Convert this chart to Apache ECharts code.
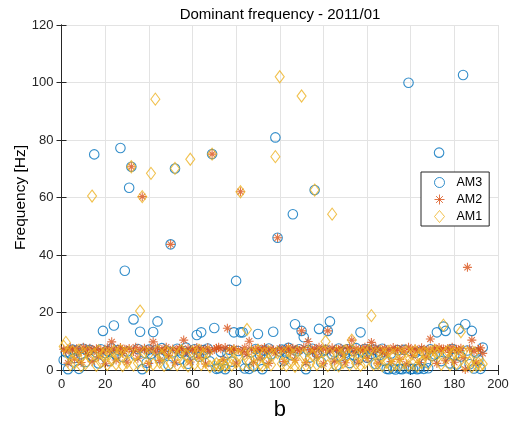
<!DOCTYPE html>
<html>
<head>
<meta charset="utf-8">
<script src="https://cdn.jsdelivr.net/npm/echarts@6/dist/echarts.min.js"></script>
<style>
  html, body { margin: 0; padding: 0; background: #fff; }
  #chart { width: 516px; height: 429px; }
</style>
</head>
<body>
<div id="chart"></div>
<script>
// Dominant frequency per b (index 1..193) for three channels
const am3 = [
  3.5, 6.2, 0.3, 5.8, 7.1, 4.2, 6.8, 0.4, 5.5, 7.4,
  2.8, 6.5, 7.0, 4.8, 75.0, 6.1, 2.3, 7.2, 13.6, 5.9,
  6.6, 3.1, 7.5, 15.5, 5.2, 6.9, 77.2, 4.5, 34.5, 6.4,
  63.4, 70.7, 17.6, 5.0, 7.3, 13.3, 0.3, 6.0, 2.5, 7.1,
  5.6, 13.2, 6.8, 16.9, 4.1, 7.6, 5.3, 6.7, 1.8, 43.7,
  6.2, 70.1, 7.4, 3.6, 5.9, 6.5, 7.8, 2.2, 6.1, 5.4,
  7.2, 12.2, 4.6, 13.1, 6.9, 5.7, 7.5, 3.0, 75.1, 14.6,
  0.4, 0.6, 6.3, 1.5, 0.3, 5.8, 7.0, 2.9, 13.1, 31.0,
  6.6, 13.1, 13.1, 0.5, 3.4, 0.4, 6.2, 1.2, 7.3, 12.5,
  5.1, 0.3, 6.8, 4.0, 7.5, 5.5, 13.3, 80.9, 46.0, 6.4,
  7.1, 3.3, 6.0, 7.7, 5.2, 54.2, 15.9, 6.5, 7.2, 13.6,
  11.4, 0.3, 6.9, 4.4, 7.4, 62.6, 5.8, 14.3, 2.7, 6.6,
  7.0, 13.6, 16.9, 5.5, 6.2, 1.6, 7.5, 4.8, 6.3, 5.9,
  7.2, 2.4, 6.7, 5.0, 7.6, 3.8, 13.1, 6.1, 7.3, 4.3,
  6.8, 5.6, 7.1, 2.1, 6.4, 5.3, 7.4, 3.2, 0.4, 0.3,
  5.7, 0.5, 0.2, 6.9, 0.4, 0.3, 7.0, 0.6, 99.9, 0.3,
  0.4, 5.9, 0.3, 0.5, 6.6, 0.4, 2.6, 0.6, 7.2, 4.9,
  5.4, 13.1, 75.6, 3.1, 15.1, 13.6, 6.0, 2.3, 7.3, 5.2,
  1.9, 14.3, 4.7, 102.6, 15.9, 6.8, 2.0, 13.6, 0.5, 6.1,
  3.6, 0.4, 7.8
];
const am2 = [
  7.2, 6.5, 2.4, 7.8, 6.9, 3.8, 7.5, 6.1, 2.6, 7.9,
  7.0, 5.4, 7.6, 2.9, 6.8, 7.4, 4.6, 7.1, 6.3, 2.2,
  7.7, 6.6, 9.8, 7.3, 3.5, 6.9, 7.8, 5.8, 7.2, 2.7,
  7.5, 70.7, 6.4, 7.9, 4.1, 7.0, 60.3, 7.6, 6.7, 2.3,
  7.4, 9.8, 6.2, 7.7, 3.3, 7.1, 6.5, 7.9, 5.1, 43.7,
  7.3, 2.5, 6.8, 7.6, 7.2, 10.4, 6.0, 7.5, 2.8, 7.0,
  6.6, 7.8, 4.4, 7.3, 6.9, 2.1, 7.7, 6.4, 75.1, 7.1,
  7.6, 7.9, 7.4, 3.6, 7.8, 14.5, 7.2, 6.7, 7.5, 2.4,
  7.0, 62.0, 6.3, 7.7, 5.5, 10.0, 7.3, 2.7, 6.9, 7.6,
  4.2, 7.1, 7.8, 6.5, 2.3, 7.4, 7.0, 5.9, 46.0, 7.5,
  6.8, 2.9, 7.2, 7.9, 6.1, 7.6, 3.4, 7.3, 6.7, 13.6,
  7.8, 2.6, 9.9, 7.1, 6.4, 7.5, 4.8, 7.9, 7.0, 2.2,
  7.4, 13.6, 6.6, 7.7, 3.1, 7.2, 6.9, 7.6, 5.3, 2.5,
  7.3, 7.8, 10.4, 6.2, 7.5, 2.8, 7.1, 6.8, 7.9, 4.0,
  7.4, 9.6, 6.5, 7.7, 2.4, 7.2, 6.0, 7.6, 5.6, 7.0,
  2.9, 7.8, 6.7, 7.3, 3.7, 7.5, 6.3, 2.1, 7.9, 7.1,
  5.0, 7.4, 6.6, 2.6, 7.7, 7.0, 4.5, 7.2, 10.8, 6.4,
  7.6, 2.3, 7.8, 6.9, 7.3, 3.2, 7.5, 6.1, 7.9, 2.7,
  7.2, 6.8, 7.6, 4.3, 0.2, 35.7, 7.4, 10.4, 6.5, 2.5,
  7.1, 7.7, 5.8
];
const am1 = [
  8.2, 9.6, 5.6, 1.8, 6.4, 2.5, 5.1, 6.9, 1.4, 5.8,
  2.2, 6.3, 4.7, 60.5, 5.5, 1.6, 6.7, 2.8, 5.2, 6.0,
  1.9, 5.7, 3.4, 6.5, 2.1, 5.4, 6.8, 1.5, 5.9, 2.6,
  6.2, 70.7, 1.7, 5.3, 2.4, 20.5, 60.3, 6.1, 1.3, 5.6,
  68.4, 2.0, 94.2, 6.6, 2.7, 5.0, 1.6, 6.4, 5.8, 2.3,
  6.0, 70.1, 1.8, 5.5, 6.7, 2.5, 5.2, 1.4, 73.3, 6.3,
  2.1, 5.7, 6.9, 1.9, 5.4, 2.8, 6.2, 1.2, 75.1, 1.6,
  2.2, 1.5, 1.8, 2.4, 1.3, 2.0, 5.9, 1.7, 6.4, 2.6,
  5.1, 62.0, 1.9, 5.6, 14.1, 2.3, 6.1, 1.5, 5.3, 6.8,
  2.0, 1.4, 5.7, 2.7, 6.3, 1.8, 5.4, 74.2, 6.0, 102.0,
  2.2, 5.8, 1.6, 6.5, 2.5, 5.2, 1.3, 6.2, 2.1, 95.3,
  5.5, 1.7, 6.6, 2.4, 5.1, 62.6, 1.9, 5.9, 2.8, 6.4,
  9.9, 1.5, 5.6, 54.2, 2.0, 6.1, 1.4, 5.3, 2.6, 6.7,
  5.0, 1.8, 10.4, 6.3, 2.3, 5.7, 1.6, 6.0, 2.5, 5.4,
  6.8, 18.9, 1.9, 5.8, 2.2, 6.2, 1.5, 5.5, 2.7, 6.5,
  1.3, 5.2, 2.0, 6.1, 1.7, 5.6, 2.4, 6.4, 1.6, 5.9,
  2.1, 6.6, 1.4, 5.3, 2.6, 6.0, 5.7, 2.2, 6.3, 5.1,
  6.8, 5.5, 6.2, 2.0, 15.6, 5.8, 6.5, 1.8, 5.4, 6.1,
  2.3, 5.7, 13.3, 6.4, 1.5, 5.9, 2.5, 1.2, 6.0, 1.7,
  2.4, 1.6, 2.1
];
const seriesNames = ['AM3', 'AM2', 'AM1'];
const xTicks = [0, 20, 40, 60, 80, 100, 120, 140, 160, 180, 200];
const yTicks = [0, 20, 40, 60, 80, 100, 120];

const colors = ['#0072BD', '#D95319', '#EDB120'];
const starPath = 'path://M5,0L5,10M0,5L10,5M1.6,1.6L8.4,8.4M1.6,8.4L8.4,1.6';
const symbols = ['circle', starPath, 'diamond'];
const symbolSizes = [9.5, 9, [9, 12]];
const axisColor = '#262626';
const fontFamily = '"Liberation Sans", Arial, sans-serif';

const toPoints = arr => arr.map((v, i) => [i + 1, v]);

const chart = echarts.init(document.getElementById('chart'), null, { renderer: 'canvas' });

const commonAxis = {
  axisLine: { lineStyle: { color: axisColor, width: 1 } },
  axisTick: { inside: true, length: 5, lineStyle: { color: axisColor } },
  axisLabel: { color: axisColor, fontSize: 13, fontFamily: fontFamily }
};

chart.setOption({
  animation: false,
  backgroundColor: '#fff',
  title: {
    text: 'Dominant frequency - 2011/01',
    left: 275, top: 2, textAlign: 'center',
    textStyle: { fontSize: 15, fontWeight: 'normal', color: '#000', fontFamily: fontFamily }
  },
  grid: { left: 61.5, right: 18, top: 25, bottom: 59, outerBoundsMode: 'none', containLabel: false },
  legend: {
    data: seriesNames,
    orient: 'vertical',
    left: 421, top: 172,
    padding: [4, 7, 3, 13],
    itemWidth: 10, itemHeight: 12, itemGap: 4,
    backgroundColor: '#fff',
    borderColor: axisColor, borderWidth: 1,
    itemStyle: { borderWidth: 1 },
    textStyle: { fontSize: 12.5, color: '#000', fontFamily: fontFamily, padding: [0, 0, 0, 7] }
  },
  xAxis: [
    Object.assign({}, commonAxis, {
      type: 'value', min: xTicks[0], max: xTicks[xTicks.length - 1], interval: 20,
      name: 'b', nameLocation: 'middle', nameGap: 29, nameMoveOverlap: false,
      nameTextStyle: { fontSize: 22, color: '#000', fontFamily: fontFamily },
      axisLabel: Object.assign({}, commonAxis.axisLabel, { margin: 8 }),
      splitLine: { show: true, lineStyle: { color: '#e3e3e3', width: 1 } }
    }),
    Object.assign({}, commonAxis, {
      type: 'value', position: 'top', min: 0, max: 200, interval: 20,
      axisLabel: { show: false }, splitLine: { show: false }
    })
  ],
  yAxis: [
    Object.assign({}, commonAxis, {
      type: 'value', min: yTicks[0], max: yTicks[yTicks.length - 1], interval: 20,
      name: 'Frequency [Hz]', nameLocation: 'middle', nameGap: 33, nameMoveOverlap: false,
      nameTextStyle: { fontSize: 15.5, color: '#000', fontFamily: fontFamily },
      axisLabel: Object.assign({}, commonAxis.axisLabel, { margin: 8 }),
      splitLine: { show: true, lineStyle: { color: '#e3e3e3', width: 1 } }
    }),
    Object.assign({}, commonAxis, {
      type: 'value', position: 'right', min: 0, max: 120, interval: 20,
      axisLabel: { show: false }, splitLine: { show: false }
    })
  ],
  series: [am3, am2, am1].map((arr, k) => ({
    name: seriesNames[k],
    type: 'scatter',
    data: toPoints(arr),
    symbol: symbols[k],
    symbolSize: symbolSizes[k],
    itemStyle: { color: 'rgba(0,0,0,0)', borderColor: colors[k], borderWidth: 1.1 },
    emphasis: { disabled: true }
  }))
});
</script>
</body>
</html>
